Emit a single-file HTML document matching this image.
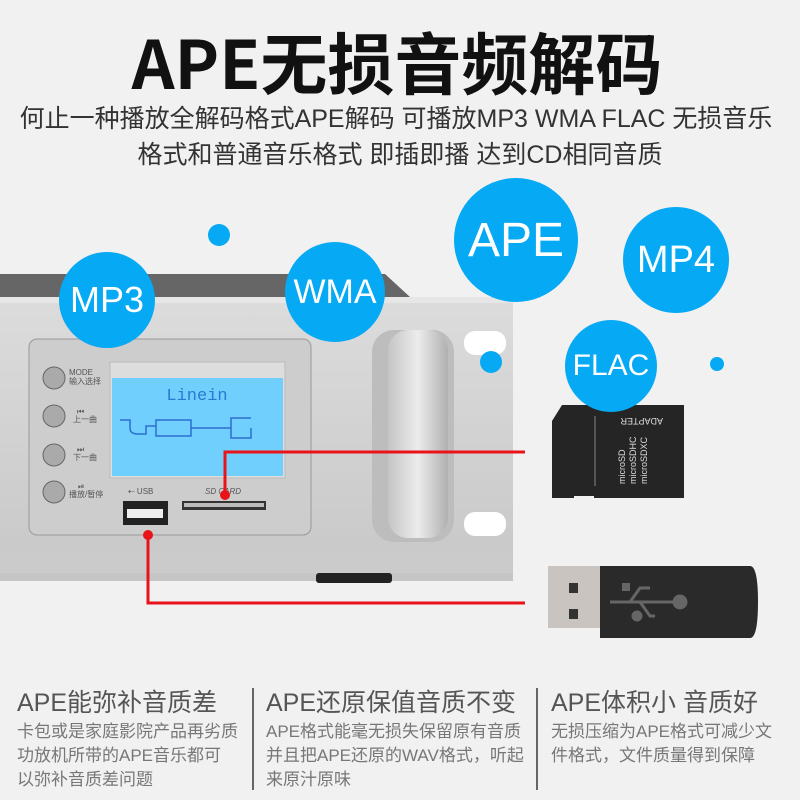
<!DOCTYPE html>
<html><head><meta charset="utf-8"><style>
body{margin:0;width:800px;height:800px;background:#f1f1f1;overflow:hidden;position:relative;font-family:"Liberation Sans","Noto Sans CJK SC",sans-serif}
.t{position:absolute;white-space:nowrap}
.c{position:absolute;border-radius:50%;background:#05a9f4;color:#fff;display:flex;align-items:center;justify-content:center;font-family:"Liberation Sans",sans-serif}
.h{font-size:25px;color:#555;top:683px}
.b{font-size:17px;color:#777;line-height:24px;top:720px}
.d{position:absolute;top:688px;width:2px;height:102px;background:#666}
</style></head><body>
<div class="t" style="left:0;width:794px;text-align:center;top:12px;font-size:67px;font-weight:bold;color:#111;font-family:'Noto Sans CJK SC',sans-serif">APE无损音频解码</div>
<div class="t" style="left:0;width:792px;text-align:center;top:99px;font-size:25px;color:#333">何止一种播放全解码格式APE解码 可播放MP3 WMA FLAC 无损音乐</div>
<div class="t" style="left:0;width:800px;text-align:center;top:135px;font-size:25px;color:#333">格式和普通音乐格式 即插即播 达到CD相同音质</div>

<svg style="position:absolute;left:0;top:0" width="800" height="800">
<defs><linearGradient id="sil" x1="0" y1="0" x2="0" y2="1"><stop offset="0" stop-color="#dcdcdc"/><stop offset="1" stop-color="#c8c8c8"/></linearGradient>
<linearGradient id="hd" x1="0" y1="0" x2="1" y2="0"><stop offset="0" stop-color="#c5c5c5"/><stop offset=".5" stop-color="#ececec"/><stop offset="1" stop-color="#b0b0b0"/></linearGradient></defs>
<polygon points="0,274 385,274 410,297 0,297" fill="#666"/>
<rect x="0" y="297" width="513" height="276" fill="url(#sil)"/>
<rect x="0" y="297" width="513" height="6" fill="#e6e6e6"/>
<rect x="0" y="552" width="513" height="21" fill="#cbcbcb"/>
<rect x="0" y="573" width="513" height="8" fill="#9a9a9a" opacity=".5"/>
<rect x="316" y="573" width="76" height="10" rx="3" fill="#222"/>
<rect x="29" y="339" width="282" height="196" rx="8" fill="#cdcdcd" stroke="#999" stroke-width="1"/>
<rect x="110" y="362" width="175" height="116" fill="#ddd" stroke="#bbb"/>
<rect x="112" y="378" width="171" height="98" fill="#70cffd"/>
<text x="197" y="400" text-anchor="middle" font-family="Liberation Mono,monospace" font-size="17" fill="#2a7ad0">Linein</text>
<path d="M120,420 h10 v8 q0,6 8,6 h8 v-8 h10 v-6 h35 v8 h40 v10 h20 v-10 M156,426 v10 h35 v-8 h40 v-10 h20" fill="none" stroke="#2a6fd0" stroke-width="1.5"/>
<g fill="#aaa" stroke="#666"><circle cx="54" cy="378" r="11"/><circle cx="54" cy="416" r="11"/><circle cx="54" cy="455" r="11"/><circle cx="54" cy="492" r="11"/></g>
<g font-size="8" fill="#555" font-family="Liberation Sans,Noto Sans CJK SC,sans-serif"><text x="69" y="375">MODE</text><text x="69" y="384">输入选择</text><text x="77" y="414">⏮</text><text x="73" y="422">上一曲</text><text x="77" y="452">⏭</text><text x="73" y="460">下一曲</text><text x="78" y="489">⏯</text><text x="69" y="497">播放/暂停</text>
<text x="128" y="494">⇠ USB</text><text x="205" y="494" font-style="italic">SD CARD</text></g>
<rect x="123" y="501" width="45" height="24" fill="#222"/><rect x="127" y="509" width="36" height="9" fill="#eee"/>
<rect x="182" y="501" width="84" height="9" fill="#333"/><rect x="184" y="503" width="80" height="4" fill="#bbb"/>
<rect x="372" y="330" width="82" height="212" rx="22" fill="#bdbdbd"/>
<rect x="388" y="330" width="60" height="208" rx="20" fill="url(#hd)"/>
<rect x="464" y="331" width="42" height="24" rx="11" fill="#fff"/>
<rect x="464" y="512" width="42" height="24" rx="11" fill="#fff"/>
<g stroke="#e8141a" stroke-width="3" fill="none"><polyline points="225,495 225,452 525,452"/><polyline points="148,535 148,603 525,603"/></g>
<circle cx="225" cy="495" r="5" fill="#e8141a"/><circle cx="148" cy="535" r="5" fill="#e8141a"/>
<circle cx="219" cy="235" r="11" fill="#05a9f4"/><circle cx="491" cy="362" r="11" fill="#05a9f4"/><circle cx="717" cy="364" r="7" fill="#05a9f4"/>
<path d="M562,405 h122 v93 h-90 v-2 h-20 v2 h-22 v-77 z" fill="#252525"/>
<line x1="595" y1="416" x2="595" y2="486" stroke="#888"/>
<g fill="#ddd" font-size="9" font-family="Liberation Sans,sans-serif"><text transform="translate(663,418) rotate(180)">ADAPTER</text>
<text transform="translate(625,484) rotate(-90)">microSD</text><text transform="translate(636,484) rotate(-90)">microSDHC</text><text transform="translate(647,484) rotate(-90)">microSDXC</text></g>
<rect x="548" y="566" width="54" height="62" fill="#c9c4c0"/><rect x="569" y="583" width="9" height="10" fill="#333"/><rect x="569" y="609" width="9" height="10" fill="#333"/>
<path d="M600,566 h150 q8,0 8,36 q0,36 -8,36 h-150 z" fill="#2a2a2a"/>
<g fill="#666" stroke="#666" stroke-width="3"><line x1="610" y1="602" x2="680" y2="602"/><polyline points="630,602 640,588 650,588" fill="none"/><polyline points="640,602 650,616 655,616" fill="none"/><circle cx="680" cy="602" r="6"/><rect x="622" y="583" width="8" height="8" stroke="none"/><circle cx="637" cy="616" r="4"/></g>
</svg>

<div class="c" style="left:59px;top:252px;width:96px;height:96px;font-size:36px">MP3</div>
<div class="c" style="left:285px;top:242px;width:100px;height:100px;font-size:34px">WMA</div>
<div class="c" style="left:454px;top:178px;width:124px;height:124px;font-size:48px">APE</div>
<div class="c" style="left:623px;top:207px;width:106px;height:106px;font-size:38px">MP4</div>
<div class="c" style="left:565px;top:320px;width:92px;height:92px;font-size:30px">FLAC</div>

<div class="t h" style="left:17px">APE能弥补音质差</div>
<div class="t h" style="left:266px">APE还原保值音质不变</div>
<div class="t h" style="left:551px">APE体积小 音质好</div>
<div class="d" style="left:252px"></div><div class="d" style="left:536px"></div>
<div class="t b" style="left:17px">卡包或是家庭影院产品再劣质<br>功放机所带的APE音乐都可<br>以弥补音质差问题</div>
<div class="t b" style="left:266px">APE格式能毫无损失保留原有音质<br>并且把APE还原的WAV格式，听起<br>来原汁原味</div>
<div class="t b" style="left:551px">无损压缩为APE格式可减少文<br>件格式，文件质量得到保障</div>
</body></html>
